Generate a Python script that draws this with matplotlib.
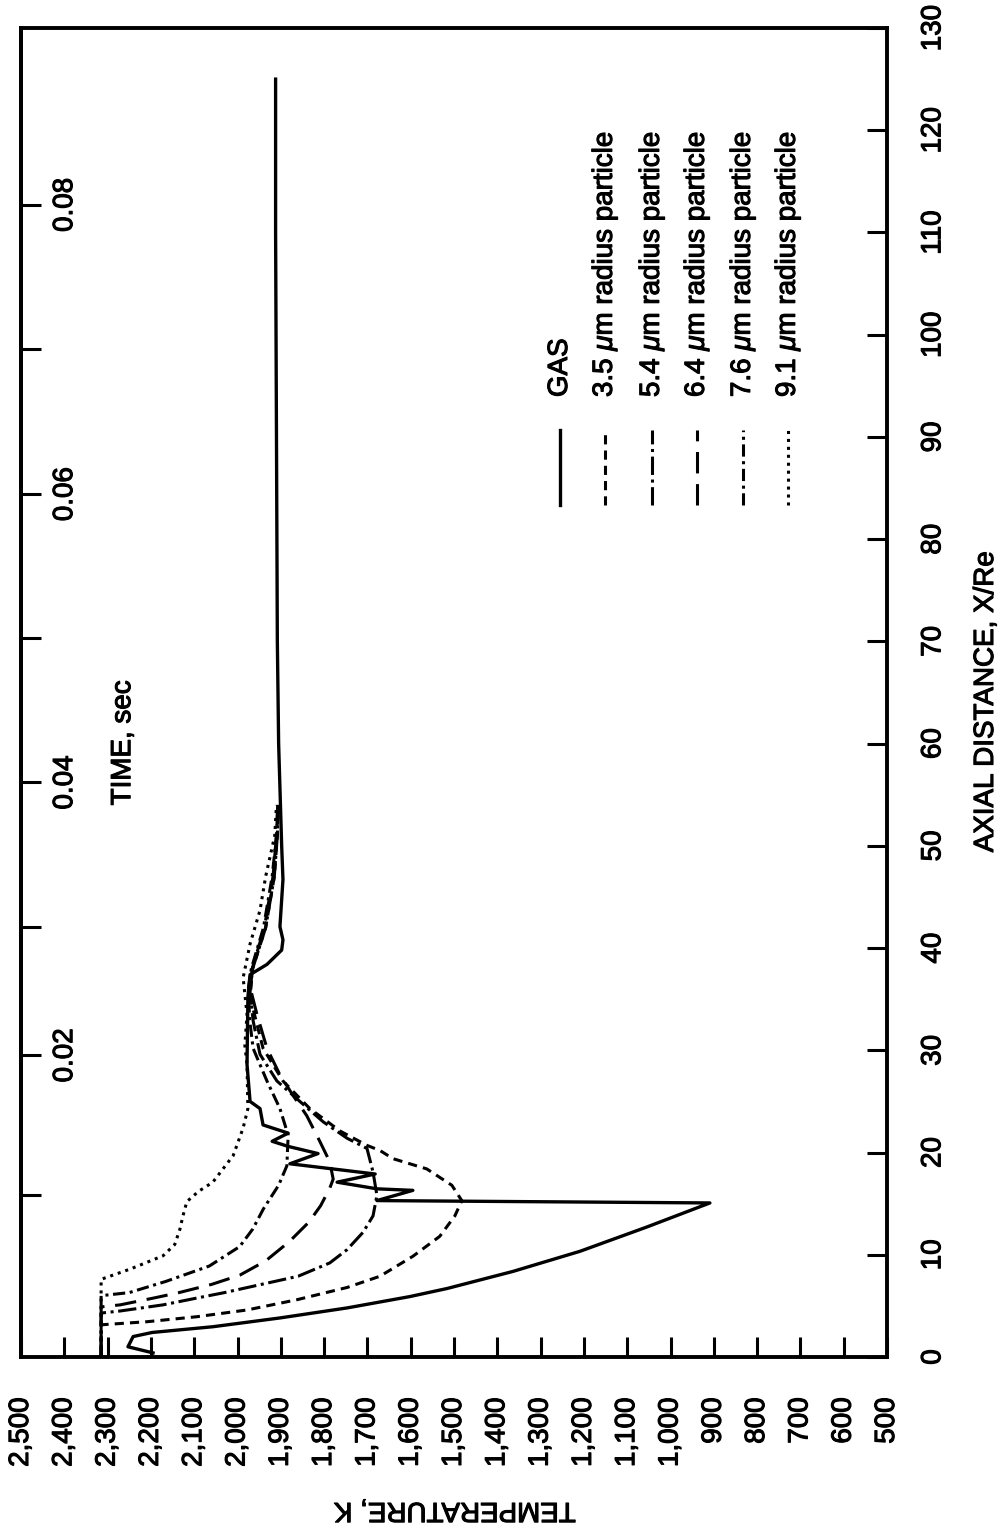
import matplotlib.pyplot as plt
import matplotlib.patheffects as pe
from matplotlib.transforms import blended_transform_factory

plt.rcParams['font.family'] = ['Liberation Sans', 'DejaVu Sans']
plt.rcParams['mathtext.fontset'] = 'custom'
plt.rcParams['mathtext.rm'] = 'Liberation Sans'
plt.rcParams['mathtext.it'] = 'Liberation Sans:italic'

# axial distance X/Re and temperature K
gas_x = [0.4, 1.0, 2.0, 2.4, 2.96, 3.82, 4.8, 5.91, 6.70, 8.37, 10.34, 12.71,
         15.07, 15.3, 16.3, 16.45, 17.1, 17.9, 18.9, 19.9, 20.6, 21.1, 21.9,
         22.7, 24.3, 25.0, 28.6, 35.2, 37.4, 38.4, 39.8, 40.8, 42.1, 46.7,
         50.0, 60.0, 70.0, 90.0, 110.0, 125.0]
gas_t = [2195, 2253, 2241, 2197, 2057, 1902, 1747, 1602, 1516, 1364, 1209,
         1055, 909, 1678, 1595, 1678, 1770, 1682, 1879, 1814, 1883, 1920, 1883,
         1941, 1948, 1971, 1978, 1976, 1971, 1932, 1898, 1895, 1902, 1895,
         1898, 1905, 1908, 1910, 1912, 1912]

p35_x = [0, 3.15, 3.45, 3.94, 4.6, 5.6, 6.8, 7.9, 9.85, 11.8, 13.8, 15.3,
         16.8, 18.4, 19.4, 20.2, 20.7, 22.1, 24.3, 27.0, 30.2, 35.2, 38.0,
         42.0, 47.0, 51.0, 54.0]
p35_t = [2315, 2315, 2209, 2094, 1978, 1863, 1747, 1671, 1595, 1533, 1498,
         1482, 1505, 1563, 1641, 1671, 1701, 1763, 1833, 1895, 1941, 1971,
         1965, 1935, 1915, 1908, 1906]

p54_x = [0, 4.3, 4.5, 5.1, 5.8, 6.3, 7.9, 9.2, 10.5, 12.2, 13.8, 15.8, 18.1,
         20.4, 21.4, 23.0, 25.0, 27.0, 29.6, 32.9, 35.7, 38.0, 42.0, 47.0,
         51.0, 54.0]
p54_t = [2315, 2315, 2271, 2172, 2090, 2030, 1860, 1787, 1747, 1710, 1687,
         1678, 1687, 1701, 1747, 1802, 1856, 1909, 1948, 1964, 1971, 1965,
         1935, 1915, 1908, 1906]

p64_x = [0, 4.9, 5.1, 5.8, 6.3, 7.1, 8.0, 9.4, 11.3, 13.2, 14.8, 16.5, 17.4,
         19.1, 21.1, 23.6, 25.6, 27.6, 30.2, 33.5, 36.0, 38.0, 42.0, 47.0,
         51.0, 54.0]
p64_t = [2315, 2315, 2271, 2190, 2135, 2060, 1995, 1935, 1880, 1835, 1808,
         1787, 1779, 1787, 1810, 1840, 1872, 1902, 1932, 1955, 1970, 1966,
         1938, 1918, 1910, 1907]

p76_x = [0, 6.0, 6.3, 7.4, 8.9, 10.8, 12.5, 14.5, 16.8, 18.7, 21.7, 24.3,
         27.0, 30.2, 33.0, 36.0, 38.0, 42.0, 47.0, 51.0, 54.0]
p76_t = [2315, 2315, 2250, 2165, 2065, 1995, 1965, 1940, 1905, 1886, 1883,
         1902, 1932, 1964, 1972, 1975, 1968, 1940, 1920, 1910, 1907]

p91_x = [0, 7.6, 8.6, 9.9, 11.0, 12.5, 13.8, 15.2, 16.2, 17.1, 19.7, 22.4,
         24.3, 28.6, 30.5, 33.5, 37.1, 40.4, 43.7, 47.0, 51.0, 54.0]
p91_t = [2315, 2315, 2248, 2172, 2145, 2133, 2126, 2117, 2090, 2057, 2010,
         1987, 1976, 1978, 1983, 1978, 1987, 1971, 1948, 1935, 1914, 1910]

series_names = ['GAS', r'3.5 $\mu$m radius particle', r'5.4 $\mu$m radius particle',
                r'6.4 $\mu$m radius particle', r'7.6 $\mu$m radius particle',
                r'9.1 $\mu$m radius particle']

temp_ticks = list(range(500, 2501, 100))
axial_ticks = list(range(0, 131, 10))
time_labels = ['0.02', '0.04', '0.06', '0.08']
time_label_pos = [29.5, 56.2, 84.4, 112.7]
time_minor_pos = [15.8, 42.1, 70.3, 98.6]

styles = ['-', (0, (3, 2)), (0, (6, 1.5, 1, 1.5)), (0, (7, 3.5)),
          (0, (4, 1.5, 1, 1.5)), (0, (1, 1.6))]
widths = [2.4, 2.2, 2.2, 2.2, 2.2, 2.2]
series = [(gas_x, gas_t), (p35_x, p35_t), (p54_x, p54_t), (p64_x, p64_t),
          (p76_x, p76_t), (p91_x, p91_t)]

heavy = [pe.withStroke(linewidth=0.8, foreground='black')]

fig = plt.figure(figsize=(10.06, 15.31), dpi=100)
ax = fig.add_axes([21 / 1006, 1 - 1357 / 1531, 866 / 1006, 1329 / 1531])

for (xs, ts), ls, lw in zip(series, styles, widths):
    ax.plot(ts, xs, color='black', lw=lw, linestyle=ls)

ax.set_xlim(2500, 500)
ax.set_ylim(0, 130)
for s in ax.spines.values():
    s.set_linewidth(2.8)

ax.set_xticks(temp_ticks)
ax.set_xticklabels([f'{t:,}' for t in temp_ticks])
ax.tick_params(axis='x', direction='in', length=14.4, width=2.2, pad=29,
               labelsize=20, labelrotation=90)

ax.yaxis.tick_right()
ax.set_yticks(axial_ticks)
ax.tick_params(axis='y', direction='in', length=14.4, width=2.2, pad=24,
               labelsize=20, labelrotation=90)
for lab in ax.get_yticklabels():
    lab.set_verticalalignment('center')
for lab in ax.get_xticklabels() + ax.get_yticklabels():
    lab.set_path_effects(heavy)

sec = ax.secondary_yaxis('left')
sec.set_yticks(time_label_pos + time_minor_pos)
sec.set_yticklabels([])
sec.tick_params(direction='in', length=14.4, width=2.2)
sec.spines['left'].set_linewidth(2.8)

tr = blended_transform_factory(ax.transAxes, ax.transData)
for lab, pos in zip(time_labels, time_label_pos):
    ax.text(0.051, pos, lab, transform=tr, rotation=90, ha='center',
            va='center', fontsize=20, path_effects=heavy)
ax.text(0.118, 0.462, 'TIME, sec', transform=ax.transAxes, rotation=90,
        ha='center', va='center', fontsize=20, path_effects=heavy)

# legend, drawn rotated like the rest of the page
key_x = [560, 605, 652, 697, 743, 788]
for px, ls, lw, name in zip(key_x, styles, widths, series_names):
    fx = (px - 21) / 866
    ax.plot([fx, fx], [0.641, 0.6975], transform=ax.transAxes, color='black',
            lw=lw, linestyle=ls)
    ax.text(fx, 0.7223, name, transform=ax.transAxes, rotation=90,
            ha='center', va='bottom', fontsize=20, path_effects=heavy)

fig.text(986 / 1006, 1 - 702 / 1531, 'AXIAL DISTANCE, X/Re', rotation=90,
         ha='center', va='center', fontsize=20, path_effects=heavy)
fig.text(455 / 1006, 1 - 1510 / 1531, 'TEMPERATURE, K', rotation=180,
         ha='center', va='center', fontsize=20, path_effects=heavy)

fig.savefig('out.png', dpi=100)
